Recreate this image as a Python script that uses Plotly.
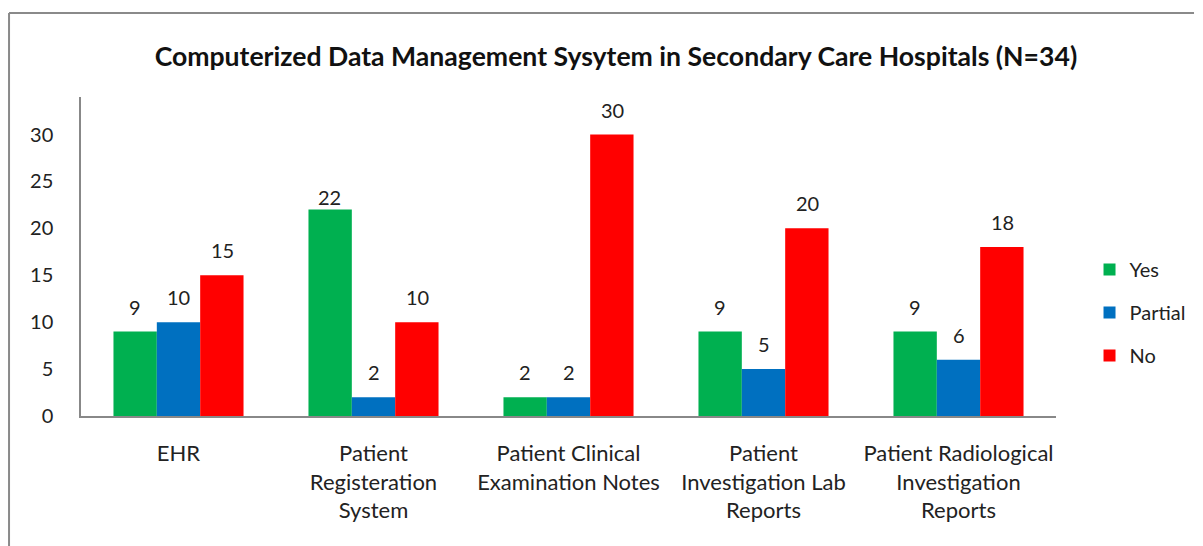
import plotly.graph_objects as go

categories = [
    "EHR",
    "Patient<br>Registeration<br>System",
    "Patient Clinical<br>Examination Notes",
    "Patient<br>Investigation Lab<br>Reports",
    "Patient Radiological<br>Investigation<br>Reports",
]
yes_vals = [9, 22, 2, 9, 9]
partial_vals = [10, 2, 2, 5, 6]
no_vals = [15, 10, 30, 20, 18]

series = [
    ("Yes", yes_vals, "#00B050"),
    ("Partial", partial_vals, "#0070C0"),
    ("No", no_vals, "#FF0000"),
]

FONT = "Lato, Calibri, sans-serif"

# plot-area geometry in pixels
L, R, T, B = 81, 1070, 97, 416
W, H = R - L, B - T
BAR_PX = 44  # width of one bar in pixels
LABEL_LIFT = 25  # value label centre above bar top, pixels
# labels that sit closer to their bar
label_lift_override = {("Yes", 1): 13}


def px_x(p):
    return (p - L) / W


def px_y(p):
    return (B - p) / H


fig = go.Figure()
annotations = []
for i, (name, vals, color) in enumerate(series):
    fig.add_trace(go.Bar(
        name=name, x=categories, y=vals, legendgroup=name,
        marker=dict(color=color, line=dict(width=0)),
    ))
    # value labels above each bar
    for j, (cat, v) in enumerate(zip(categories, vals)):
        annotations.append(dict(
            x=cat, y=v, xref="x", yref="y", text=str(v),
            showarrow=False, xanchor="center", yanchor="middle",
            xshift=(i - 1) * BAR_PX,
            yshift=label_lift_override.get((name, j), LABEL_LIFT),
            font=dict(size=20, family=FONT, color="#222"),
        ))

fig.update_layout(
    width=1203, height=546,
    margin=dict(l=L, r=1203 - R, t=T, b=546 - B),
    paper_bgcolor="white", plot_bgcolor="white",
    barmode="group", bargap=0.333, bargroupgap=0,
    font=dict(family=FONT, size=20, color="#222"),
    title=dict(
        text="<b>Computerized Data Management Sysytem in Secondary Care Hospitals (N=34)</b>",
        x=0.512, xanchor="center", y=1 - 57 / 546, yanchor="middle",
        font=dict(size=26.6, family=FONT, color="#111"),
    ),
    legend=dict(
        x=px_x(1104), xanchor="left", y=px_y(250), yanchor="top",
        font=dict(size=20, family=FONT, color="#222"),
        tracegroupgap=14, itemwidth=30,
        bgcolor="rgba(0,0,0,0)",
    ),
    showlegend=True,
    annotations=annotations,
    xaxis=dict(
        showline=True, linecolor="#888", linewidth=1.5,
        ticks="", tickfont=dict(size=22, family=FONT, color="#222"),
        showgrid=False, fixedrange=True, ticklabelstandoff=17,
    ),
    yaxis=dict(
        range=[0, 34], tickvals=[0, 5, 10, 15, 20, 25, 30],
        showline=True, linecolor="#888", linewidth=1.5,
        ticks="", showgrid=False, zeroline=False,
        tickfont=dict(size=20, family=FONT, color="#222"),
        ticklabelstandoff=22,
    ),
    shapes=[
        dict(type="line", xref="paper", yref="paper",
             x0=px_x(8), x1=px_x(1210), y0=px_y(13), y1=px_y(13),
             line=dict(color="#8a8a8a", width=2)),
        dict(type="line", xref="paper", yref="paper",
             x0=px_x(8), x1=px_x(8), y0=px_y(13), y1=px_y(560),
             line=dict(color="#8a8a8a", width=2)),
    ],
)

fig.write_html("out.html")
